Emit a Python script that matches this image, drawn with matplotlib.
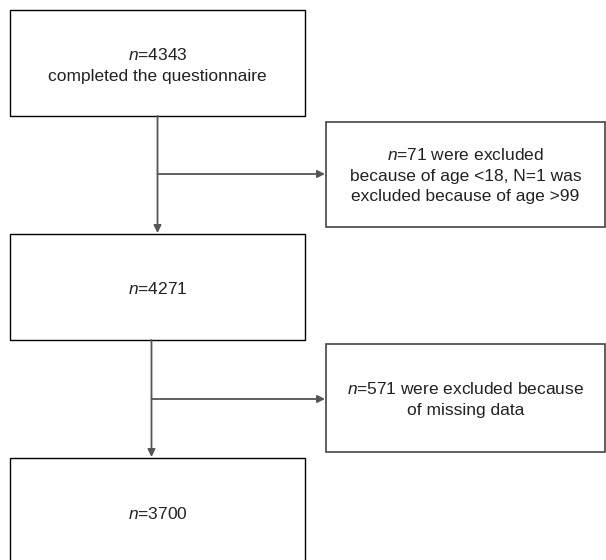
import matplotlib.pyplot as plt
from matplotlib.patches import Rectangle

plt.rcParams["font.family"] = ["Liberation Sans", "DejaVu Sans"]
plt.rcParams["mathtext.fontset"] = "custom"
plt.rcParams["mathtext.rm"] = "Liberation Sans"
plt.rcParams["mathtext.it"] = "Liberation Sans:italic"

# === данные ===
counts_main = [4343, 4271, 3700]
counts_excl = [71, 571]
main_notes = ["completed the questionnaire", "", ""]
excl_notes = [
    "were excluded\nbecause of age <18, N=1 was\nexcluded because of age >99",
    "were excluded because\nof missing data",
]

# === разметка (пиксели) ===
W, H = 606, 560
main_boxes = [(10, 10, 295, 106), (10, 234, 295, 106), (10, 458, 295, 108)]
excl_boxes = [(326, 122, 279, 105), (326, 344, 279, 108)]
stem_x = [157.5, 151.5]
branch_y = [174, 399]
fs = 12.5

fig = plt.figure(figsize=(W / 100, H / 100), dpi=100)
ax = fig.add_axes([0, 0, 1, 1])
ax.set_xlim(0, W)
ax.set_ylim(H, 0)
ax.axis("off")

for i, (x, y, w, h) in enumerate(main_boxes):
    ax.add_patch(Rectangle((x, y), w, h, fill=False, ec="black", lw=1.0))
    label = f"$n$={counts_main[i]}"
    if main_notes[i]:
        label += "\n" + main_notes[i]
    ax.text(x + w / 2, y + h / 2 + 2, label, ha="center", va="center",
            fontsize=fs, color="#222222", linespacing=1.5)

for i, (x, y, w, h) in enumerate(excl_boxes):
    ax.add_patch(Rectangle((x, y), w, h, fill=False, ec="#444444", lw=1.2))
    label = f"$n$={counts_excl[i]} " + excl_notes[i]
    ax.text(x + w / 2, y + h / 2 + 1, label, ha="center", va="center",
            fontsize=fs, color="#222222", linespacing=1.5)

arrow = dict(arrowstyle="-|>", color="#555555", lw=1.3, mutation_scale=11,
             shrinkA=0, shrinkB=0)
for i in range(2):
    top = main_boxes[i][1] + main_boxes[i][3]
    nxt = main_boxes[i + 1][1]
    ax.annotate("", xy=(stem_x[i], nxt - 1), xytext=(stem_x[i], top),
                arrowprops=arrow)
    ax.annotate("", xy=(excl_boxes[i][0] - 1, branch_y[i]),
                xytext=(stem_x[i], branch_y[i]), arrowprops=arrow)

fig.savefig("out.png", dpi=100)
